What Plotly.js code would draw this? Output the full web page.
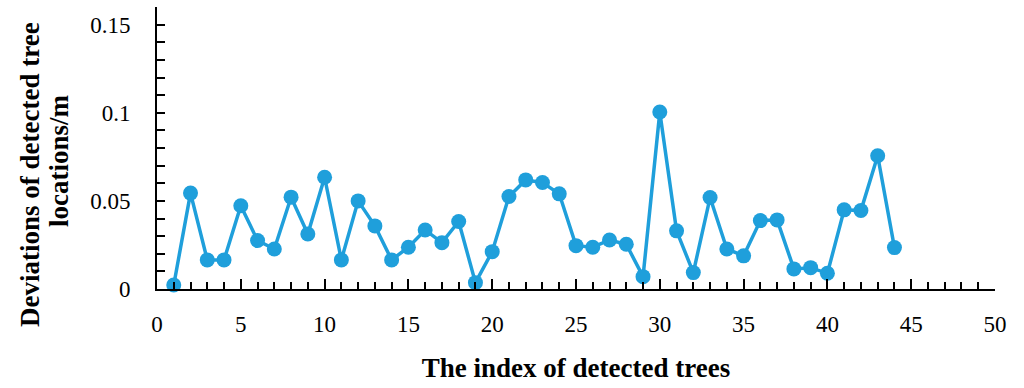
<!DOCTYPE html>
<html><head><meta charset="utf-8">
<script src="https://cdn.plot.ly/plotly-3.0.1.min.js"></script>
<style>body{margin:0;background:#fff}#c{width:1024px;height:388px}</style>
</head><body><div id="c"></div>
<script>
const treeIndex = [1,2,3,4,5,6,7,8,9,10,11,12,13,14,15,16,17,18,19,20,21,22,23,24,25,26,27,28,29,30,31,32,33,34,35,36,37,38,39,40,41,42,43,44];
const deviations = [0.0023,0.0544,0.0165,0.0165,0.0472,0.0275,0.0227,0.0521,0.0312,0.0634,0.0165,0.0500,0.0358,0.0165,0.0237,0.0335,0.0263,0.0383,0.0036,0.0212,0.0525,0.0619,0.0604,0.0540,0.0246,0.0237,0.0278,0.0254,0.0070,0.1004,0.0330,0.0093,0.0519,0.0227,0.0188,0.0388,0.0392,0.0114,0.0121,0.0089,0.0449,0.0445,0.0756,0.0235];
const xTitle = "The index of detected trees";
const yTitleLines = ["Deviations of detected tree", "locations/m"];

const font = "'Liberation Serif', 'DejaVu Serif', serif";
const W = 1024, H = 388, L = 157, R = 29, T = 7, B = 99;
const pw = W - L - R, ph = H - T - B;
const px = v => (v - L) / pw, py = v => (H - B - v) / ph;

Plotly.newPlot('c', [{
  x: treeIndex, y: deviations, type: 'scatter', mode: 'lines+markers',
  line: {color: '#1f9fdb', width: 3.5},
  marker: {color: '#1f9fdb', size: 15},
  cliponaxis: false, showlegend: false
}], {
  width: W, height: H,
  margin: {l: L, r: R, t: T, b: B},
  paper_bgcolor: '#fff', plot_bgcolor: '#fff',
  font: {family: font, color: '#000', size: 23},
  xaxis: {
    range: [0, 50], dtick: 5, tick0: 0, showgrid: false, zeroline: false,
    showline: true, linecolor: '#000', linewidth: 2,
    ticks: 'inside', ticklen: 10, tickwidth: 1.5, tickcolor: '#000',
    minor: {dtick: 1, ticks: 'inside', ticklen: 7, tickwidth: 1.5, tickcolor: '#000', showgrid: false},
    tickfont: {family: font, size: 23}, ticklabelstandoff: 13,
    title: {text: '<b>' + xTitle + '</b>', font: {family: font, size: 27}, standoff: 23}
  },
  yaxis: {
    range: [0, 0.16], dtick: 0.05, tick0: 0, showgrid: false, zeroline: false,
    showline: true, linecolor: '#000', linewidth: 2,
    ticks: 'inside', ticklen: 8, tickwidth: 1.5, tickcolor: '#000',
    minor: {dtick: 0.01, ticks: 'inside', ticklen: 8, tickwidth: 1.5, tickcolor: '#000', showgrid: false},
    tickfont: {family: font, size: 23}, ticklabelstandoff: 20,
    tickformat: '~g'
  },
  annotations: [
    {text: '<b>' + yTitleLines[0] + '</b>', xref: 'paper', yref: 'paper', x: px(30), y: py(174),
     xanchor: 'center', yanchor: 'middle', textangle: -90, showarrow: false, font: {family: font, size: 27}},
    {text: '<b>' + yTitleLines[1] + '</b>', xref: 'paper', yref: 'paper', x: px(59), y: py(161),
     xanchor: 'center', yanchor: 'middle', textangle: -90, showarrow: false, font: {family: font, size: 27}}
  ]
}, {displayModeBar: false});
</script></body></html>
